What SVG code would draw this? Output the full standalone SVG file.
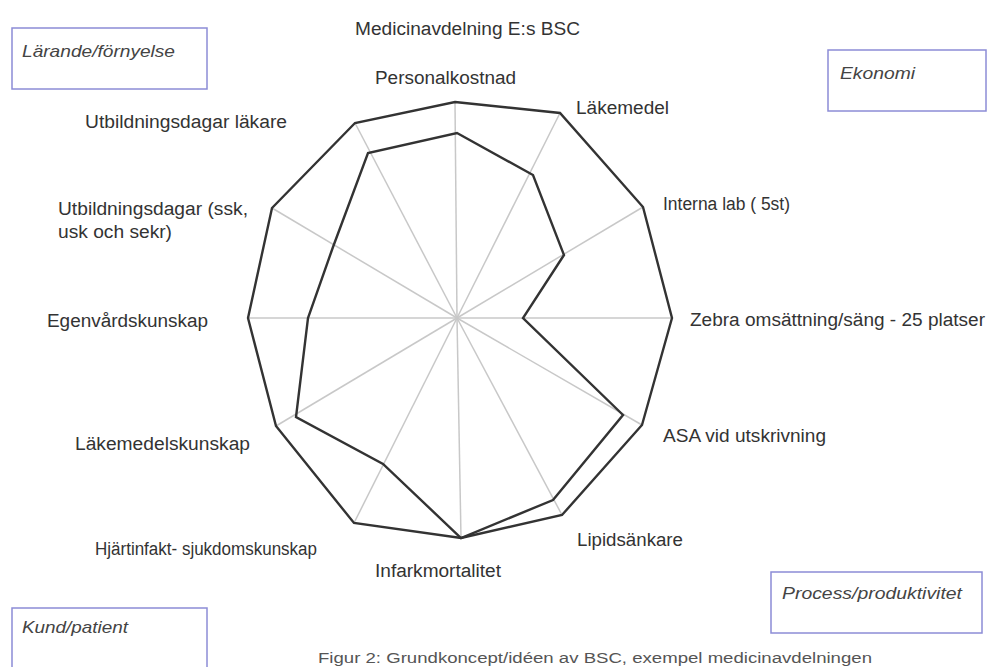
<svg xmlns="http://www.w3.org/2000/svg" width="989" height="667" viewBox="0 0 989 667">
  <style>
    .lbl { font-family: "Liberation Sans", Arial, sans-serif; font-size: 18px; fill: #333; }
    .cat { font-family: "Liberation Sans", Arial, sans-serif; font-size: 17px; font-style: italic; fill: #444; }
    .cap { font-family: "Liberation Sans", Arial, sans-serif; font-size: 14px; fill: #555; }
    .box { fill: #fff; stroke: #8c8cd6; stroke-width: 1.5; }
    .spoke { stroke: #c8c8c8; stroke-width: 1.5; }
    .series { fill: none; stroke: #333; stroke-width: 2.4; stroke-linejoin: miter; }
  </style>
  <rect width="989" height="667" fill="#fff"/>

  <!-- chart title -->
  <text class="lbl" x="355" y="35" textLength="225" lengthAdjust="spacingAndGlyphs">Medicinavdelning E:s BSC</text>

  <!-- perspective boxes -->
  <g id="box-larande">
    <rect class="box" x="12" y="28" width="195" height="61"/>
    <text class="cat" x="22" y="57" textLength="153" lengthAdjust="spacingAndGlyphs">Lärande/förnyelse</text>
  </g>
  <g id="box-ekonomi">
    <rect class="box" x="828" y="50" width="158" height="61"/>
    <text class="cat" x="840" y="79" textLength="75" lengthAdjust="spacingAndGlyphs">Ekonomi</text>
  </g>
  <g id="box-process">
    <rect class="box" x="771" y="572" width="211" height="61"/>
    <text class="cat" x="782" y="599" textLength="180" lengthAdjust="spacingAndGlyphs">Process/produktivitet</text>
  </g>
  <g id="box-kund">
    <rect class="box" x="12" y="608" width="195" height="70"/>
    <text class="cat" x="22" y="633" textLength="106" lengthAdjust="spacingAndGlyphs">Kund/patient</text>
  </g>

  <!-- radar spokes -->
  <g id="connectors">
    <line class="spoke" x1="457" y1="318" x2="455" y2="102"/>
    <line class="spoke" x1="457" y1="318" x2="560" y2="113"/>
    <line class="spoke" x1="457" y1="318" x2="643" y2="207"/>
    <line class="spoke" x1="457" y1="318" x2="672" y2="318"/>
    <line class="spoke" x1="457" y1="318" x2="642" y2="425"/>
    <line class="spoke" x1="457" y1="318" x2="562" y2="515"/>
    <line class="spoke" x1="457" y1="318" x2="461" y2="538"/>
    <line class="spoke" x1="457" y1="318" x2="354" y2="523"/>
    <line class="spoke" x1="457" y1="318" x2="276" y2="426"/>
    <line class="spoke" x1="457" y1="318" x2="248" y2="318"/>
    <line class="spoke" x1="457" y1="318" x2="272" y2="208"/>
    <line class="spoke" x1="457" y1="318" x2="355" y2="123"/>
  </g>

  <!-- data series -->
  <g id="series-target">
    <polygon class="series" points="455,102 560,113 643,207 672,318 642,425 562,515 461,538 354,523 276,426 248,318 272,208 355,123"/>
  </g>
  <g id="series-actual">
    <polygon class="series" points="457,133 533,175 564,255 523,318 623,415 553,500 461,538 383,464 296,417 308,318 333,247 368,153"/>
  </g>

  <!-- axis labels -->
  <g id="axis-labels">
    <text class="lbl" x="375" y="84" textLength="141" lengthAdjust="spacingAndGlyphs">Personalkostnad</text>
    <text class="lbl" x="576" y="114" textLength="93" lengthAdjust="spacingAndGlyphs">Läkemedel</text>
    <text class="lbl" x="663" y="210" textLength="127" lengthAdjust="spacingAndGlyphs">Interna lab ( 5st)</text>
    <text class="lbl" x="690" y="326" textLength="295" lengthAdjust="spacingAndGlyphs">Zebra omsättning/säng - 25 platser</text>
    <text class="lbl" x="663" y="442" textLength="163" lengthAdjust="spacingAndGlyphs">ASA vid utskrivning</text>
    <text class="lbl" x="577" y="546" textLength="106" lengthAdjust="spacingAndGlyphs">Lipidsänkare</text>
    <text class="lbl" x="375" y="577" textLength="126" lengthAdjust="spacingAndGlyphs">Infarkmortalitet</text>
    <text class="lbl" x="95" y="555" textLength="222" lengthAdjust="spacingAndGlyphs">Hjärtinfakt- sjukdomskunskap</text>
    <text class="lbl" x="75" y="450" textLength="175" lengthAdjust="spacingAndGlyphs">Läkemedelskunskap</text>
    <text class="lbl" x="47" y="327" textLength="161" lengthAdjust="spacingAndGlyphs">Egenvårdskunskap</text>
    <text class="lbl" x="58" y="215" textLength="190" lengthAdjust="spacingAndGlyphs">Utbildningsdagar (ssk,</text>
    <text class="lbl" x="58" y="238" textLength="114" lengthAdjust="spacingAndGlyphs">usk och sekr)</text>
    <text class="lbl" x="85" y="128" textLength="202" lengthAdjust="spacingAndGlyphs">Utbildningsdagar läkare</text>
  </g>

  <!-- figure caption along the lower edge -->
  <text class="cap" x="318" y="663" textLength="554" lengthAdjust="spacingAndGlyphs">Figur 2: Grundkoncept/idéen av BSC, exempel medicinavdelningen</text>
</svg>
